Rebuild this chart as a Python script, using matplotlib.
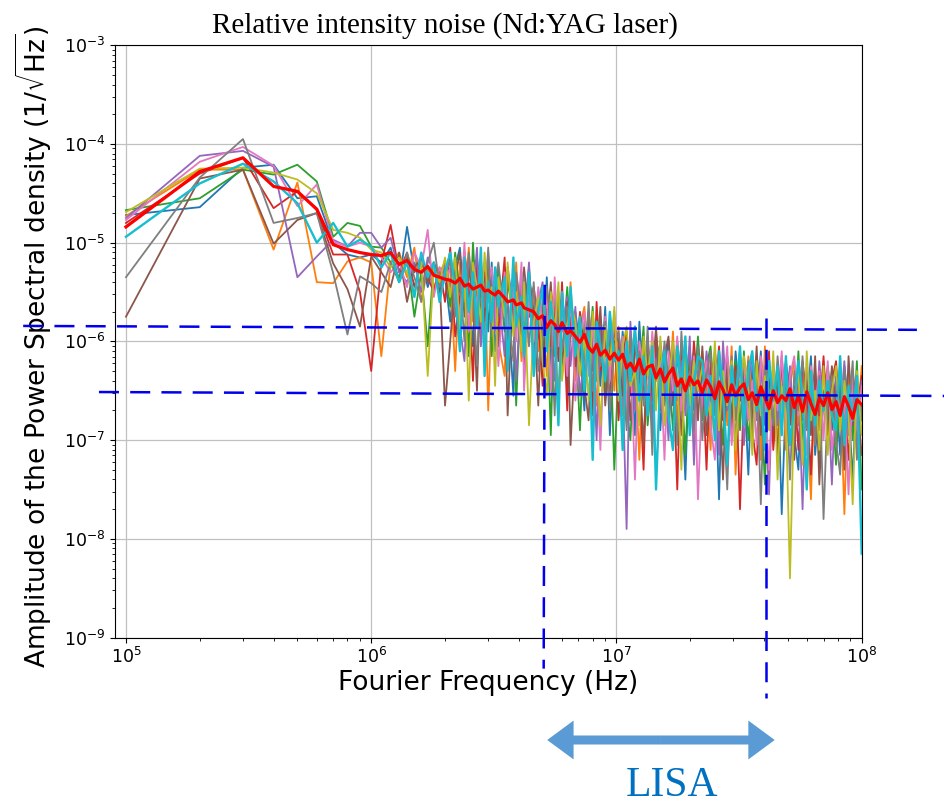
import numpy as np
import matplotlib
matplotlib.use("Agg")
import matplotlib.pyplot as plt
from matplotlib.patches import FancyArrowPatch, ArrowStyle
from matplotlib.transforms import blended_transform_factory

# Fourier frequency grid, in multiples of 100 kHz
freq_index = [1, 2, 3, 4, 5, 6, 7, 8, 9, 10,
              11, 12, 13, 14, 15, 16, 17, 18, 19, 20,
              21, 22, 23, 24, 25, 26, 27, 28, 29, 30,
              31, 32, 33, 35, 36, 38, 39, 41, 42, 44,
              46, 48, 50, 52, 54, 56, 58, 60, 63, 65,
              68, 71, 74, 77, 80, 83, 86, 90, 94, 98,
              102, 106, 110, 114, 119, 124, 129, 134, 140, 145,
              151, 157, 163, 170, 177, 184, 191, 199, 207, 215,
              224, 233, 242, 252, 262, 272, 283, 295, 306, 319,
              331, 345, 358, 373, 388, 403, 419, 436, 454, 472,
              491, 510, 531, 552, 574, 597, 621, 646, 672, 699,
              727, 756, 786, 817, 850, 884, 919, 956, 1000]

# Measured spectra, stored as 100*log10(amplitude in 1/sqrt(Hz))
run_0 = [-472, -464, -424, -421, -455, -453, -500, -512, -515, -512,
         -520, -505, -540, -484, -530, -515, -545, -525, -550, -535,
         -580, -525, -505, -565, -550, -605, -515, -555, -520, -590,
         -520, -610, -570, -525, -560, -655, -535, -590, -545, -575,
         -560, -595, -610, -535, -625, -565, -600, -555, -645, -580,
         -570, -605, -670, -575, -630, -590, -645, -565, -695, -600,
         -645, -590, -630, -600, -695, -580, -650, -620, -680, -595,
         -690, -625, -600, -665, -615, -650, -740, -605, -670, -600,
         -655, -615, -690, -630, -760, -620, -645, -680, -610, -660,
         -635, -735, -625, -665, -610, -685, -640, -700, -630, -775,
         -655, -630, -695, -730, -625, -665, -615, -715, -660, -635,
         -635, -690, -650, -715, -625, -665, -740, -640, -680]
run_1 = [-473, -426, -426, -507, -439, -540, -541, -519, -515, -520,
         -615, -520, -510, -535, -505, -560, -525, -545, -530, -520,
         -530, -630, -520, -560, -505, -580, -535, -595, -525, -670,
         -560, -535, -600, -635, -530, -570, -520, -620, -565, -540,
         -555, -610, -570, -635, -545, -585, -660, -560, -600, -540,
         -640, -585, -565, -625, -610, -665, -575, -615, -580, -650,
         -585, -675, -635, -590, -625, -720, -600, -655, -610, -640,
         -615, -650, -665, -590, -680, -620, -655, -610, -700, -635,
         -610, -645, -710, -615, -670, -630, -685, -605, -735, -640,
         -670, -615, -655, -625, -720, -605, -675, -645, -705, -620,
         -710, -645, -620, -685, -635, -670, -760, -625, -690, -620,
         -670, -630, -705, -645, -775, -635, -660, -695, -625]
run_2 = [-467, -455, -426, -431, -421, -438, -494, -480, -483, -504,
         -505, -520, -535, -515, -575, -530, -605, -520, -540, -525,
         -565, -510, -550, -520, -615, -500, -570, -540, -600, -515,
         -615, -550, -525, -590, -540, -575, -665, -530, -595, -525,
         -590, -550, -625, -565, -695, -555, -580, -615, -545, -595,
         -590, -690, -580, -620, -565, -640, -595, -655, -585, -730,
         -625, -600, -665, -700, -595, -635, -585, -685, -630, -605,
         -610, -665, -625, -690, -600, -640, -715, -615, -655, -595,
         -680, -625, -605, -665, -650, -705, -615, -655, -620, -690,
         -610, -700, -660, -615, -650, -745, -625, -680, -635, -665,
         -635, -670, -685, -610, -700, -640, -675, -630, -720, -655,
         -625, -660, -725, -630, -685, -645, -700, -620, -750]
run_3 = [-480, -430, -414, -465, -448, -467, -512, -512, -550, -630,
         -520, -482, -530, -510, -545, -520, -535, -550, -525, -560,
         -505, -595, -555, -510, -545, -640, -520, -575, -530, -560,
         -540, -575, -590, -515, -605, -545, -580, -535, -625, -560,
         -545, -580, -645, -550, -605, -565, -620, -540, -670, -575,
         -625, -570, -610, -580, -675, -560, -630, -600, -660, -575,
         -680, -615, -590, -655, -605, -640, -730, -595, -660, -590,
         -645, -605, -680, -620, -750, -610, -635, -670, -600, -650,
         -630, -730, -620, -660, -605, -680, -635, -695, -625, -770,
         -650, -625, -690, -725, -620, -660, -610, -710, -655, -630,
         -630, -685, -645, -710, -620, -660, -735, -635, -675, -615,
         -695, -640, -620, -680, -665, -720, -630, -670, -635]
run_4 = [-475, -412, -407, -423, -535, -514, -497, -504, -490, -490,
         -505, -495, -530, -540, -520, -550, -515, -530, -545, -520,
         -545, -520, -585, -620, -515, -555, -505, -605, -550, -525,
         -535, -590, -550, -615, -525, -565, -640, -540, -580, -520,
         -615, -560, -540, -600, -585, -640, -550, -590, -555, -625,
         -565, -655, -615, -570, -605, -700, -580, -635, -590, -620,
         -605, -640, -790, -580, -670, -610, -645, -600, -690, -625,
         -600, -635, -700, -605, -660, -620, -675, -595, -725, -630,
         -665, -610, -650, -620, -715, -600, -670, -640, -700, -615,
         -705, -640, -615, -680, -630, -665, -755, -620, -685, -615,
         -665, -625, -700, -640, -770, -630, -655, -690, -620, -670,
         -645, -745, -635, -675, -620, -695, -650, -710, -640]
run_5 = [-575, -435, -426, -501, -477, -470, -521, -547, -585, -514,
         -530, -545, -510, -560, -525, -515, -540, -520, -535, -665,
         -600, -535, -510, -575, -525, -560, -650, -515, -580, -510,
         -570, -530, -605, -545, -675, -535, -560, -595, -525, -575,
         -565, -665, -555, -595, -540, -615, -570, -630, -560, -705,
         -605, -580, -645, -680, -575, -615, -565, -665, -610, -585,
         -600, -655, -615, -680, -590, -630, -705, -605, -645, -585,
         -670, -615, -595, -655, -640, -695, -605, -645, -610, -680,
         -605, -695, -655, -610, -645, -740, -620, -675, -630, -660,
         -630, -665, -680, -605, -695, -635, -670, -625, -715, -650,
         -620, -655, -720, -625, -680, -640, -695, -615, -745, -650,
         -680, -625, -665, -635, -730, -615, -685, -655, -715]
run_6 = [-477, -418, -403, -422, -463, -441, -499, -504, -500, -504,
         -515, -530, -520, -545, -510, -525, -487, -555, -525, -540,
         -525, -560, -575, -500, -590, -530, -565, -520, -610, -545,
         -525, -560, -625, -530, -585, -545, -600, -520, -650, -555,
         -600, -545, -585, -555, -650, -535, -605, -575, -635, -550,
         -660, -595, -570, -635, -585, -620, -710, -575, -640, -570,
         -635, -595, -670, -610, -740, -600, -625, -660, -590, -640,
         -620, -720, -610, -650, -595, -670, -625, -685, -615, -760,
         -645, -620, -685, -720, -615, -655, -605, -705, -650, -625,
         -625, -680, -640, -705, -615, -655, -730, -630, -670, -610,
         -690, -635, -615, -675, -660, -715, -625, -665, -630, -700,
         -620, -710, -670, -625, -660, -755, -635, -690, -645]
run_7 = [-535, -434, -395, -480, -475, -470, -531, -593, -534, -541,
         -550, -520, -540, -510, -535, -560, -520, -500, -545, -530,
         -520, -575, -535, -600, -510, -550, -625, -525, -565, -505,
         -595, -540, -520, -580, -565, -620, -530, -570, -535, -605,
         -540, -630, -590, -545, -580, -675, -555, -610, -565, -595,
         -585, -620, -635, -560, -650, -590, -625, -580, -670, -605,
         -590, -625, -690, -595, -650, -610, -665, -585, -715, -620,
         -655, -600, -640, -610, -705, -590, -660, -630, -690, -605,
         -700, -635, -610, -675, -625, -660, -750, -615, -680, -610,
         -660, -620, -695, -635, -765, -625, -650, -685, -615, -665,
         -640, -740, -630, -670, -615, -690, -645, -705, -635, -780,
         -660, -635, -700, -735, -630, -670, -620, -720, -665]
run_8 = [-469, -425, -424, -429, -436, -450, -487, -490, -495, -507,
         -510, -525, -515, -530, -550, -520, -635, -525, -540, -515,
         -555, -515, -590, -530, -660, -520, -545, -580, -510, -560,
         -545, -645, -535, -575, -520, -595, -550, -610, -540, -685,
         -580, -555, -620, -655, -550, -590, -540, -640, -585, -560,
         -580, -635, -595, -660, -570, -610, -685, -585, -625, -565,
         -660, -605, -585, -645, -630, -685, -595, -635, -600, -670,
         -595, -685, -645, -600, -635, -730, -610, -665, -620, -650,
         -625, -660, -675, -600, -690, -630, -665, -620, -710, -645,
         -615, -650, -715, -620, -675, -635, -690, -610, -740, -645,
         -675, -840, -660, -630, -725, -610, -680, -650, -710, -625,
         -715, -650, -625, -690, -640, -675, -765, -630, -695]
run_9 = [-494, -440, -420, -438, -460, -500, -480, -504, -497, -504,
         -525, -510, -540, -520, -555, -510, -535, -520, -560, -530,
         -510, -545, -610, -515, -570, -530, -585, -505, -635, -540,
         -580, -525, -565, -535, -630, -515, -585, -555, -615, -530,
         -635, -570, -545, -610, -560, -595, -685, -550, -615, -545,
         -615, -575, -650, -590, -720, -580, -605, -640, -570, -620,
         -610, -710, -600, -640, -585, -660, -615, -675, -605, -750,
         -635, -610, -675, -710, -605, -645, -595, -695, -640, -615,
         -620, -675, -635, -700, -610, -650, -725, -625, -665, -605,
         -685, -630, -610, -670, -655, -710, -620, -660, -625, -695,
         -615, -705, -665, -620, -655, -750, -630, -685, -640, -670,
         -640, -675, -690, -615, -705, -645, -680, -635, -815]
run_mean = [-484, -428, -414, -443, -448, -466, -502, -507, -510, -512,
            -513, -510, -522, -518, -527, -530, -524, -533, -535, -537,
            -538, -541, -536, -544, -542, -547, -545, -543, -549, -548,
            -551, -553, -549, -556, -560, -558, -563, -561, -566, -568,
            -570, -577, -574, -586, -579, -583, -590, -581, -592, -589,
            -595, -601, -593, -606, -611, -603, -614, -609, -618, -612,
            -619, -613, -627, -622, -630, -618, -633, -626, -624, -637,
            -628, -641, -633, -627, -645, -638, -650, -636, -644, -640,
            -652, -639, -646, -658, -641, -649, -661, -644, -655, -647,
            -643, -659, -652, -664, -646, -657, -668, -650, -662, -655,
            -660, -648, -667, -655, -671, -651, -663, -674, -657, -665,
            -652, -669, -661, -675, -656, -666, -678, -659, -664]

# LISA band guide lines (drawn beyond the axes)
upper_level_x = [3.81e4, 1.68e8]
upper_level_y = [1.435e-6, 1.31e-6]
lower_level_x = [7.76e4, 2.2e8]
lower_level_y = [3.07e-7, 2.80e-7]
lisa_low_x = [5.1e6, 5.05e6]
lisa_low_y = [3.75e-6, 4.84e-10]
lisa_high_x = [4.09e7, 4.09e7]
lisa_high_y = [1.73e-6, 2.46e-10]
lisa_arrow_x = [5.22e6, 4.42e7]

runs = [run_0, run_1, run_2, run_3, run_4, run_5, run_6, run_7, run_8, run_9]
freq = np.array(freq_index) * 1e5
for r in runs + [run_mean]:
    assert len(r) == len(freq), len(r)

fig = plt.figure(figsize=(9.44, 8.07), dpi=100)
ax = fig.add_axes([0.1218, 0.2100, 0.7910, 0.7339])

for i, r in enumerate(runs):
    ax.plot(freq, 10 ** (np.array(r) / 100.0), color=f"C{i}",
            lw=1.7 if i == 9 else 1.3)
ax.plot(freq, 10 ** (np.array(run_mean) / 100.0), color="red", lw=2.3)

ax.set_xscale("log")
ax.set_yscale("log")
ax.set_xlim(9.02e4, 1e8)
ax.set_ylim(1e-9, 1e-3)
ax.grid(True, which="major", color="#c0c0c0", lw=0.9)
ax.tick_params(labelsize=12.5)

ax.set_xlabel("Fourier Frequency (Hz)", fontsize=19)
ax.set_ylabel(r"Amplitude of the Power Spectral density (1/$\sqrt{\mathrm{Hz}}$)", fontsize=19)
ax.xaxis.set_label_coords(0.5, -0.055)
ax.yaxis.set_label_coords(-0.082, 0.492)

dash = dict(color="#0000ee", lw=1.8, ls=(0, (8, 4.5)), clip_on=False, zorder=5)
ax.plot(upper_level_x, upper_level_y, **dash)
ax.plot(lower_level_x, lower_level_y, **dash)
ax.plot(lisa_low_x, lisa_low_y, **dash)
ax.plot(lisa_high_x, lisa_high_y, **dash)

fig.text(445 / 944, 1 - 33 / 807, "Relative intensity noise (Nd:YAG laser)",
         family="Liberation Serif", fontsize=21, ha="center", va="baseline")

trans = blended_transform_factory(ax.transData, fig.transFigure)
ymid = 1 - 740 / 807
xm = np.sqrt(lisa_arrow_x[0] * lisa_arrow_x[1])
style = ArrowStyle("Simple", head_length=19, head_width=28, tail_width=6.5)
for xe in lisa_arrow_x:
    fig.patches.append(FancyArrowPatch((xm, ymid), (xe, ymid), transform=trans,
                                       arrowstyle=style, mutation_scale=1,
                                       shrinkA=0, shrinkB=0, color="#5B9BD5",
                                       lw=0))
fig.text(672 / 944, 1 - 796 / 807, "LISA", family="Liberation Serif",
         fontsize=30, color="#0070C0", ha="center", va="baseline")

fig.savefig("out.png", dpi=100)
